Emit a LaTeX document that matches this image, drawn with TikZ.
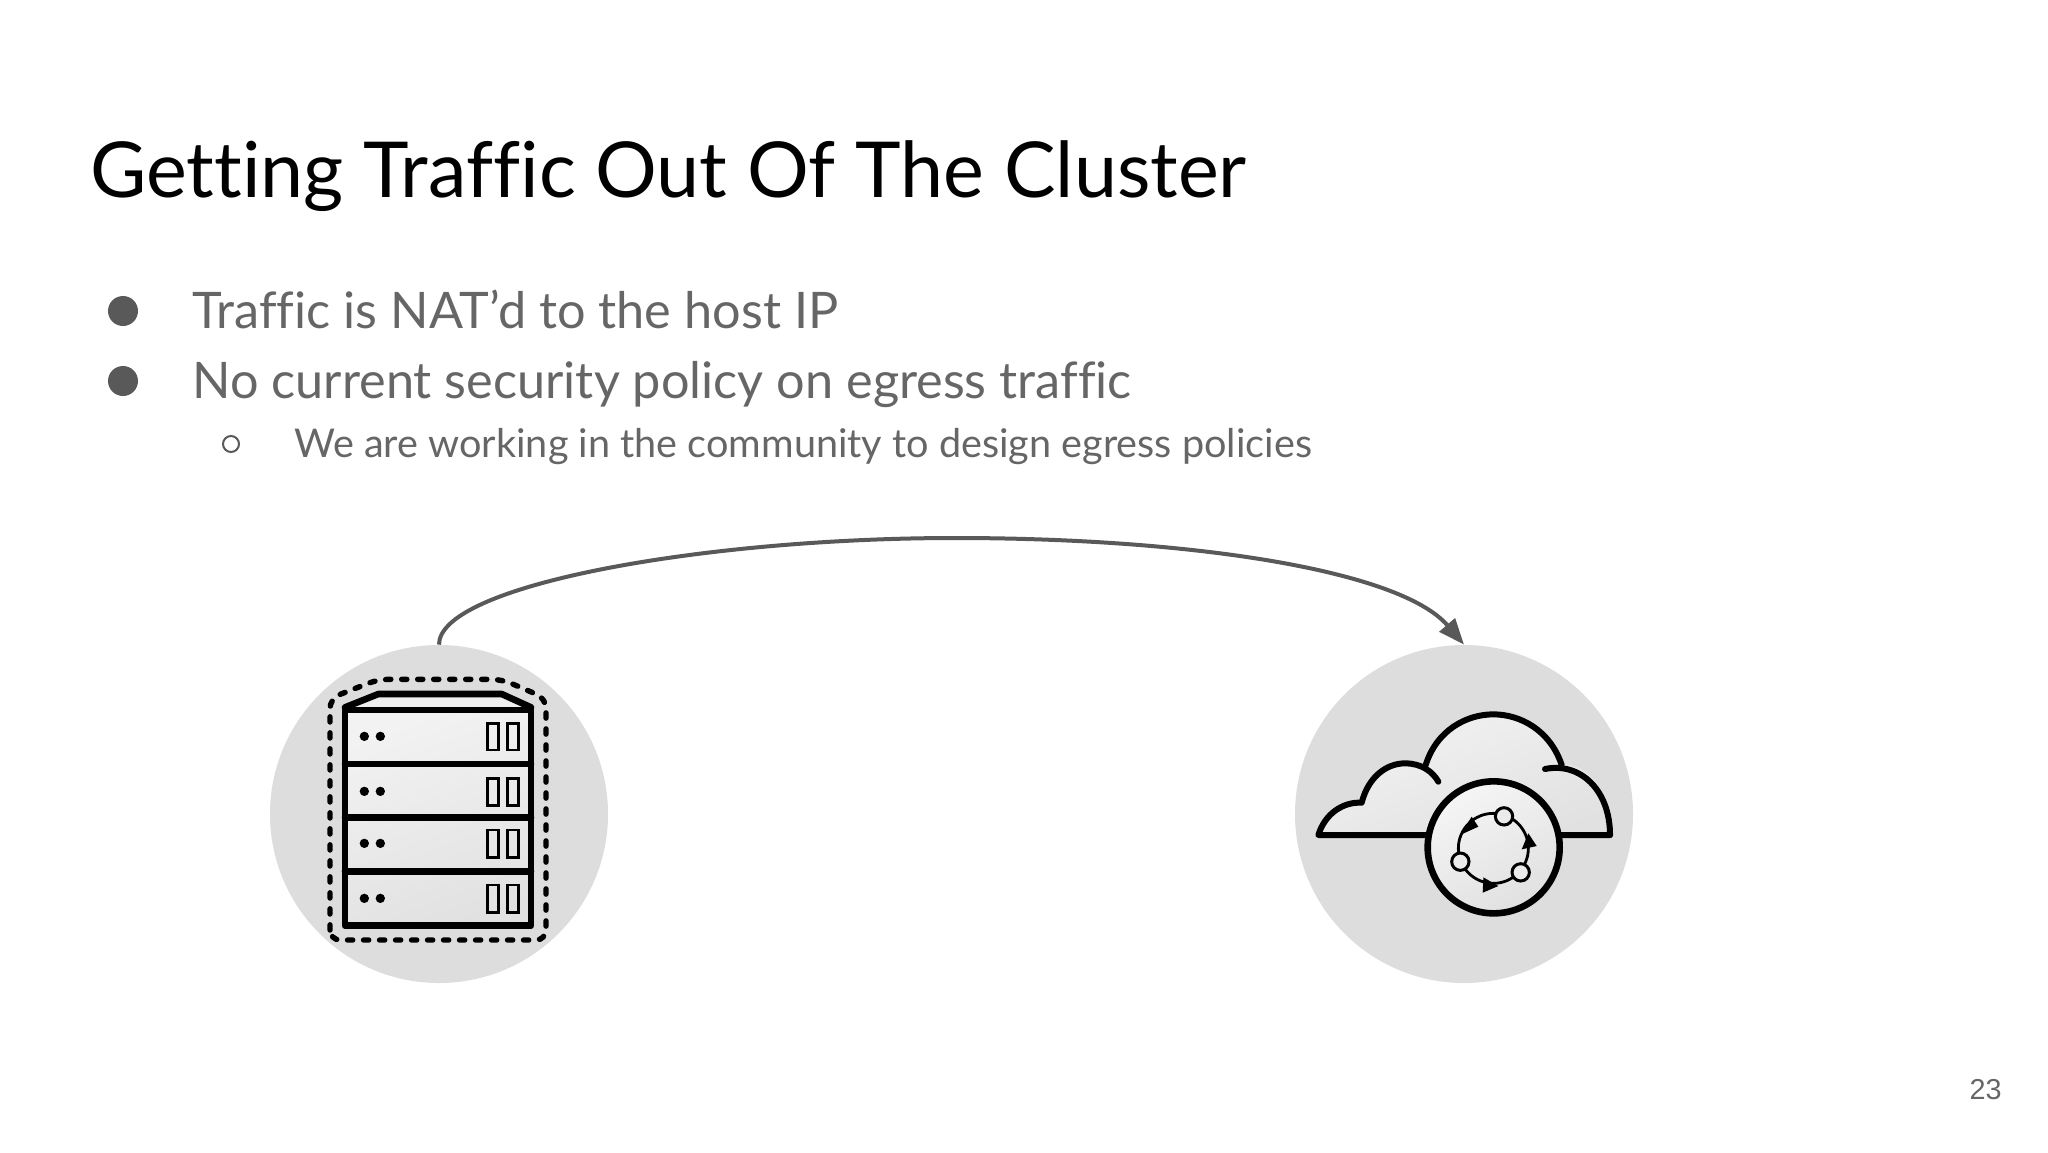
\documentclass[tikz,border=0pt]{standalone}
\usepackage{fontspec}
\setmainfont{Lato}[Ligatures=NoCommon]
\newfontfamily\numfont{Liberation Sans}
\usetikzlibrary{arrows.meta}
\definecolor{txt}{HTML}{666666}
\definecolor{bul}{HTML}{595959}
\definecolor{hubgray}{HTML}{DDDDDD}
\tikzset{
  hub/.style={circle,fill=hubgray,draw=none,minimum size=169pt,inner sep=0pt},
  txtline/.style={anchor=base west,inner sep=0pt,text=txt},
  bulletdot/.style={circle,fill=bul,draw=none,minimum size=15pt,inner sep=0pt},
  subdot/.style={circle,draw=bul,line width=1pt,fill=white,minimum size=8pt,inner sep=0pt},
  heavy/.style={draw=black,line width=3.3pt,line join=round,line cap=round},
  thin box/.style={draw=black,line width=1.4pt,fill=none},
  zoomA/.style={shift={(250,630)},x=.16667pt,y=-.16667pt},
  zoomB/.style={shift={(1280,630)},x=.16667pt,y=-.16667pt},
  glossy/.style={left color=#1,right color=#1!93!black,shading angle=20},
  link/.style={draw=bul,line width=2pt,-{Triangle[length=13pt,width=10pt]}}
}
\begin{document}
\begin{tikzpicture}[x=.5pt,y=-.5pt]
\useasboundingbox[fill=white] (0,0) rectangle (2048,1152);
\node[anchor=base west,inner sep=0pt,text=black,font=\fontsize{38.6}{44}\selectfont] (title) at (90,197) {Getting Traffic Out Of The Cluster};
\node[bulletdot] (b1) at (123,311) {};
\node[bulletdot] (b2) at (123,381) {};
\node[subdot] (b3) at (231,444) {};
\node[txtline,font=\fontsize{25.2}{30}\selectfont] (t1) at (192,328) {Traffic is NAT’d to the host IP};
\node[txtline,font=\fontsize{25.2}{30}\selectfont] (t2) at (192,398) {No current security policy on egress traffic};
\node[txtline,font=\fontsize{19.8}{24}\selectfont] (t3) at (294,457) {We are working in the community to design egress policies};
\node[anchor=base east,inner sep=0pt,text=txt,font=\numfont\fontsize{14.4}{17}\selectfont] (pg) at (2002,1099) {23};
\node[hub] (host) at (439,814) {};
\node[hub] (net) at (1464,814) {};
\coordinate (peak) at (955,538);
\draw[link] (host.north) .. controls (439,585) and (705,538) .. (peak) .. controls (1190,538) and (1400,570) .. (net.north);
% server
\begin{scope}[zoomA]
\path[glossy=white!95!black] (285,240) rectangle (843,887);
\path[fill=white!93!black] (285,232) -- (385,192) -- (755,192) -- (843,232) -- cycle;
\draw[heavy] (285,240) -- (285,887) -- (843,887) -- (843,240) -- cycle;
\draw[heavy] (285,232) -- (385,192) -- (755,192) -- (843,232);
\draw[heavy] (285,402) -- (843,402);
\draw[heavy] (285,563) -- (843,563);
\draw[heavy] (285,724) -- (843,724);
\foreach \yy/\ra/\rb in {319/280/360,484/445/527,640/600/682,805/765/848}{
  \fill (343,\yy) circle[radius=14];
  \fill (391,\yy) circle[radius=14];
  \draw[thin box] (713,\ra) rectangle (745,\rb);
  \draw[thin box] (773,\ra) rectangle (805,\rb);
}
\draw[black,line width=2.7pt,line cap=round,dash pattern=on 2.6pt off 5.4pt,rounded corners=5pt]
  (240,930) -- (240,205) -- (385,148) -- (755,148) -- (888,205) -- (888,930) -- cycle;
\end{scope}
% cloud
\begin{scope}[zoomB]
\path[glossy=white!95!black] (115,615) .. controls (135,550) and (190,515) .. (245,518)
  .. controls (265,440) and (320,400) .. (375,400) .. controls (400,400) and (420,402) .. (437,405)
  .. controls (470,300) and (560,253) .. (640,253) .. controls (720,253) and (810,300) .. (845,405)
  .. controls (920,395) and (990,480) .. (990,615) -- cycle;
\draw[heavy,line width=3pt] (437,405) .. controls (470,300) and (560,253) .. (640,253) .. controls (720,253) and (810,300) .. (845,405);
\draw[heavy,line width=3pt] (990,615) -- (115,615) .. controls (135,550) and (190,515) .. (245,518)
  .. controls (265,440) and (320,400) .. (375,400) .. controls (425,400) and (458,425) .. (475,455);
\draw[heavy,line width=3pt] (795,417) .. controls (900,395) and (990,480) .. (990,615);
\draw[draw=black,line width=3.3pt,left color=white!96!black,right color=white!88!black,shading angle=30] (641,652) circle[radius=198];
\draw[black,line width=1.4pt] (640,655) circle[radius=105];
\foreach \cx/\cy in {672/559,541/695,722/727}{
  \draw[black,line width=1.5pt,fill=white!92!black] (\cx,\cy) circle[radius=26];
}
\fill[black] (575,560) -- (540,615) -- (595,590) -- cycle;
\fill[black] (745,610) -- (770,648) -- (725,658) -- cycle;
\fill[black] (610,742) -- (655,768) -- (608,788) -- cycle;
\end{scope}
\end{tikzpicture}
\end{document}
